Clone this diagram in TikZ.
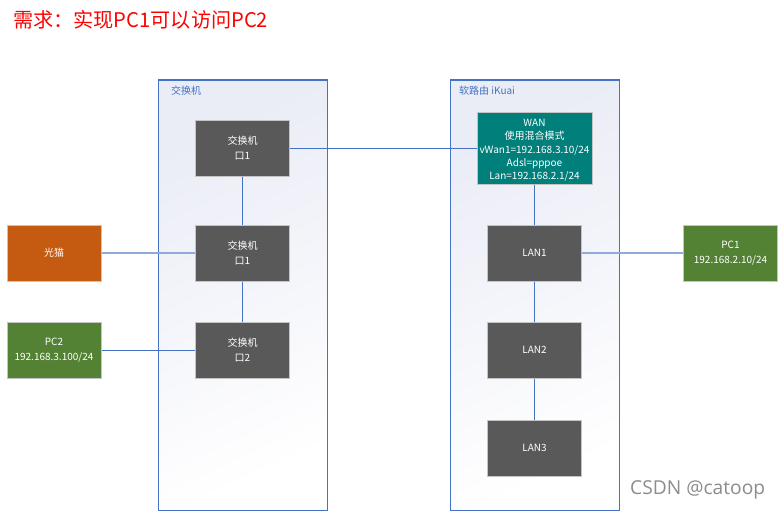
\documentclass[tikz,border=0pt]{standalone}
\usepackage{fontspec}
\setmainfont{Noto Sans CJK SC}
\newfontfamily\markfont{Open Sans}
\usepackage{xcolor}
\definecolor{linkblue}{HTML}{4472C4}
\definecolor{softblue}{HTML}{8FAADC}
\definecolor{grouptint}{HTML}{EAECF6}
\definecolor{groupmid}{HTML}{F6F7FC}
\definecolor{boxedge}{HTML}{C4C4C4}
\definecolor{swgray}{HTML}{595959}
\definecolor{wanteal}{HTML}{007F7B}
\definecolor{modemorange}{HTML}{C55A11}
\definecolor{pcgreen}{HTML}{548235}
\tikzset{
 groupbox/.style = {draw = linkblue, line width = 1pt, inner sep = 0, top color = grouptint, middle color = groupmid, bottom color = white, shading angle = 25, minimum width = 169pt, minimum height = 430pt},
 grouplabel/.style = {anchor = west, inner sep = 0, text = linkblue, font = \fontsize{10}{12}\selectfont},
 devbox/.style = {draw = boxedge, line width = 1pt, inner sep = 0, text = white, align = center, minimum width = 94pt, minimum height = 56pt, font = \fontsize{10}{15}\selectfont},
 link/.style = {linkblue, line width = .8pt},
 softlink/.style = {softblue, line width = 1.6pt},
}
\begin{document}
\begin{tikzpicture}[x = 1pt, y = -1pt]
 \useasboundingbox (0, 0) rectangle (779, 511);
  \node (title) [anchor = west, inner sep = 0, text = red, font = \fontsize{20.15}{24}\selectfont] at (13, 20) {需求：实现PC1可以访问PC2};

  \node (swgroup) [groupbox] at (242.5, 295) {};
  \node (routergroup) [groupbox] at (534.5, 295) {};
  \node (swlabel) [grouplabel] at (171, 91) {交换机};
  \node (routerlabel) [grouplabel] at (459, 91) {软路由 iKuai};

  \node (swa) [devbox, fill = swgray] at (242.5, 148) {交换机\\口1};
  \node (swb) [devbox, fill = swgray] at (242.5, 253) {交换机\\口1};
  \node (swc) [devbox, fill = swgray] at (242.5, 350) {交换机\\口2};
  \node (modem) [devbox, fill = modemorange] at (54, 253) {光猫};
  \node (pctwo) [devbox, fill = pcgreen] at (54, 350) {PC2\\192.168.3.100/24};
  \node (wan) [devbox, fill = wanteal, minimum width = 115pt, minimum height = 72pt, font = \fontsize{10}{13.2}\selectfont] at (534.5, 148) {\rule{0pt}{12pt}WAN\\使用混合模式\\vWan1=192.168.3.10/24\\Adsl=pppoe\\Lan=192.168.2.1/24};
  \node (lana) [devbox, fill = swgray] at (534.5, 253) {LAN1};
  \node (lanb) [devbox, fill = swgray] at (534.5, 350) {LAN2};
  \node (lanc) [devbox, fill = swgray] at (534.5, 448) {LAN3};
  \node (pcone) [devbox, fill = pcgreen] at (730.5, 253) {PC1\\192.168.2.10/24};

  \draw [link] (swa) -- (wan);
  \draw [link] (swa) -- (swb);
  \draw [link] (swb) -- (swc);
  \draw [softlink] (modem) -- (swb);
  \draw [link] (pctwo) -- (swc);
  \draw [link] (wan) -- (lana);
  \draw [softlink] (lana) -- (pcone);
  \draw [link] (lana) -- (lanb);
  \draw [link] (lanb) -- (lanc);

  \node (mark) [anchor = west, inner sep = 0, text = black!45, font = \markfont\fontsize{19.2}{23}\selectfont] at (630, 490) {CSDN @catoop};
 \end{tikzpicture}
\end{document}
